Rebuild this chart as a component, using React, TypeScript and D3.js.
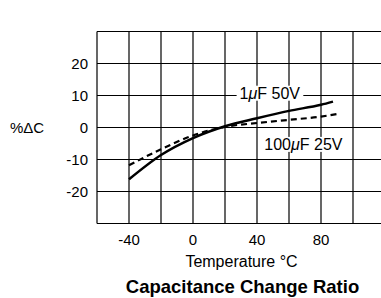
import React, { useEffect, useRef } from 'react';
import * as d3 from 'd3';

// values
const temps = [-40, -20, 0, 20, 40, 60, 80];
const solid1uF = [-16.2, -8.6, -3.3, 0.4, 2.9, 5.2, 7.1];
const solidEnd = { t: 87.5, v: 8.1 };
const dashed100uF = [-11.8, -6.8, -2.5, 0.2, 1.4, 2.4, 3.4];
const dashedEnd = { t: 90, v: 4.2 };

const xGrid = [-60, -40, -20, 0, 20, 40, 60, 80, 100, 120];
const yGrid = [-30, -20, -10, 0, 10, 20, 30];
const xTicks = [-40, 0, 40, 80];
const yTicks = [20, 10, 0, -10, -20];

const App = () => {
  const svgRef = useRef<SVGSVGElement>(null);

  useEffect(() => {
    document.body.style.margin = '0';
    const svg = d3.select(svgRef.current);
    svg.selectAll('*').remove();

    const font = 'Liberation Sans, Arial, Helvetica, sans-serif';

    const x = d3.scaleLinear().domain([-60, 120]).range([97, 385]);
    const y = d3.scaleLinear().domain([-30, 30]).range([223.5, 31.5]);

    // grid
    const grid = svg.append('g').attr('stroke', '#000').attr('stroke-width', 1.2);
    xGrid.forEach(t => {
      grid.append('line')
        .attr('x1', x(t)).attr('x2', x(t))
        .attr('y1', y(30)).attr('y2', y(-30));
    });
    yGrid.forEach(v => {
      grid.append('line')
        .attr('x1', x(-60)).attr('x2', x(120))
        .attr('y1', y(v)).attr('y2', y(v));
    });

    // tick labels
    svg.append('g')
      .selectAll('text')
      .data(yTicks)
      .enter()
      .append('text')
      .attr('x', 88)
      .attr('y', d => y(d))
      .attr('dy', '0.36em')
      .attr('text-anchor', 'end')
      .attr('font-family', font)
      .attr('font-size', 15)
      .text(d => d);

    svg.append('g')
      .selectAll('text')
      .data(xTicks)
      .enter()
      .append('text')
      .attr('x', d => x(d))
      .attr('y', 245)
      .attr('text-anchor', 'middle')
      .attr('font-family', font)
      .attr('font-size', 15)
      .text(d => d);

    svg.append('text')
      .attr('x', 10).attr('y', y(0)).attr('dy', '0.36em')
      .attr('font-family', font).attr('font-size', 15)
      .text('%ΔC');

    svg.append('text')
      .attr('x', 241.5).attr('y', 267)
      .attr('text-anchor', 'middle')
      .attr('font-family', font).attr('font-size', 16)
      .text('Temperature °C');

    svg.append('text')
      .attr('x', 242.5).attr('y', 293)
      .attr('text-anchor', 'middle')
      .attr('font-family', font).attr('font-size', 18.5).attr('font-weight', 'bold')
      .text('Capacitance Change Ratio');

    // curves
    const line = d3.line<[number, number]>()
      .x(d => x(d[0]))
      .y(d => y(d[1]))
      .curve(d3.curveMonotoneX);

    const solidPts: [number, number][] = temps.map((t, i) => [t, solid1uF[i]]);
    solidPts.push([solidEnd.t, solidEnd.v]);
    const dashPts: [number, number][] = temps.map((t, i) => [t, dashed100uF[i]]);
    dashPts.push([dashedEnd.t, dashedEnd.v]);

    svg.append('path')
      .datum(dashPts)
      .attr('fill', 'none')
      .attr('stroke', '#000')
      .attr('stroke-width', 2.2)
      .attr('stroke-dasharray', '6,4')
      .attr('d', line);

    svg.append('path')
      .datum(solidPts)
      .attr('fill', 'none')
      .attr('stroke', '#000')
      .attr('stroke-width', 2.5)
      .attr('d', line);

    // series labels with white boxes
    const addLabel = (tx: number, vy: number, pre: string, post: string) => {
      const g = svg.append('g');
      const rect = g.append('rect').attr('fill', '#fff');
      const text = g.append('text')
        .attr('x', x(tx)).attr('y', y(vy))
        .attr('text-anchor', 'middle')
        .attr('font-family', font).attr('font-size', 16);
      text.append('tspan').text(pre);
      text.append('tspan').attr('font-style', 'italic').text('μ');
      text.append('tspan').text(post);
      const bb = (text.node() as SVGTextElement).getBBox();
      rect.attr('x', bb.x - 3).attr('y', bb.y + 1)
        .attr('width', bb.width + 6).attr('height', bb.height - 2);
    };
    addLabel(48, 9.0, '1', 'F 50V');
    addLabel(69, -7.0, '100', 'F 25V');
  }, []);

  return <svg ref={svgRef} width={381} height={298} style={{ display: 'block', background: '#fff' }}></svg>;
};

export default App;
